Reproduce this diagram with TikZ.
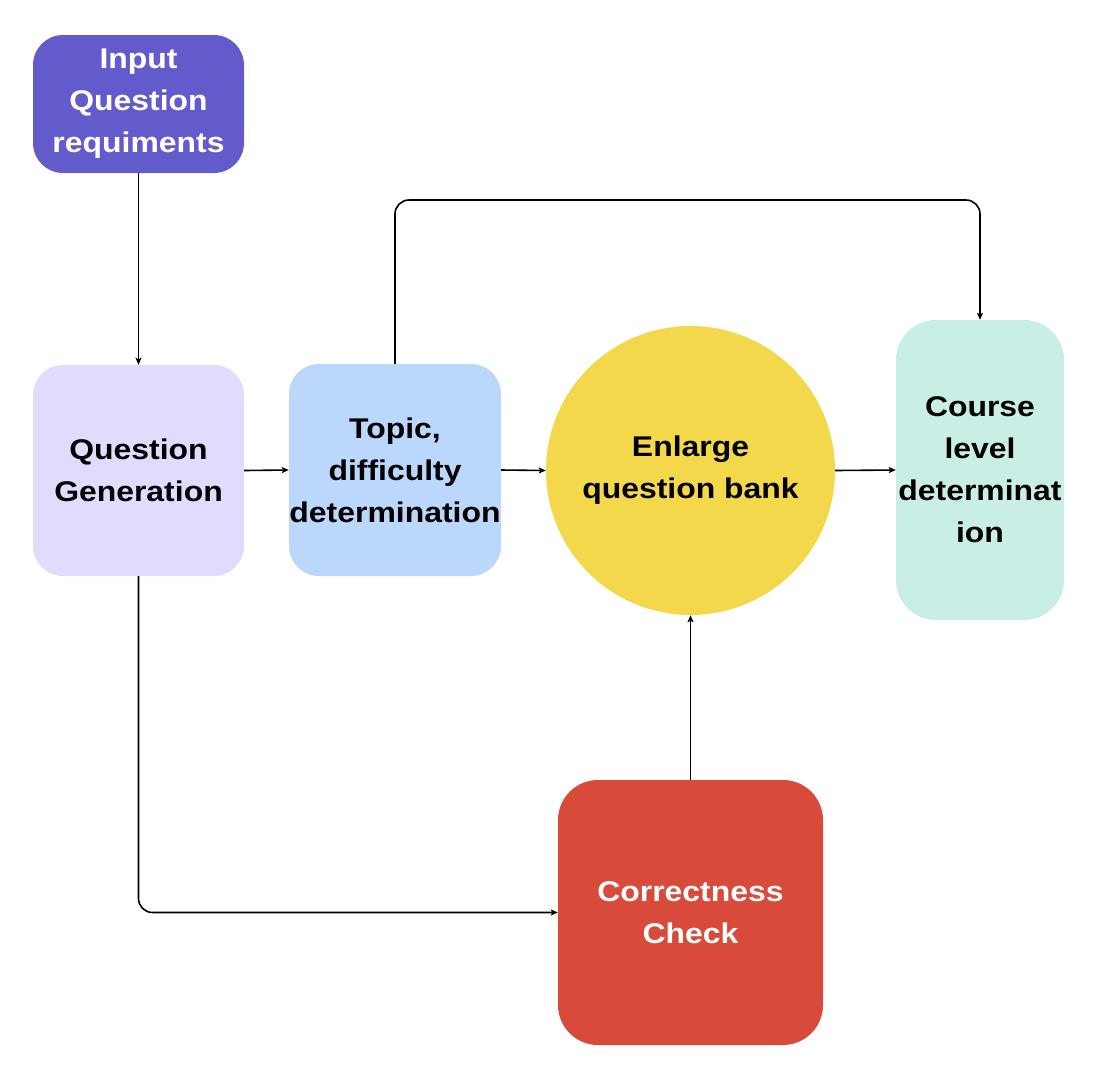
\documentclass[tikz,border=0pt]{standalone}
\usepackage{fontspec}
\setmainfont{Liberation Sans}[FakeStretch=1.12]
\usepackage{tikz}
\usetikzlibrary{arrows.meta}
\definecolor{inputc}{HTML}{635BCB}
\definecolor{genc}{HTML}{E1DCFE}
\definecolor{topicc}{HTML}{BBD7FC}
\definecolor{bankc}{HTML}{F3D84B}
\definecolor{coursec}{HTML}{C9EEE5}
\definecolor{checkc}{HTML}{D84A3A}
\tikzset{
  flowbox/.style={rounded corners=30pt, inner sep=0pt, align=center,
    font=\fontsize{28.5}{42}\selectfont\bfseries},
  link/.style={draw=black, line width=1.6pt, rounded corners=14pt,
    -{Stealth[length=7pt,width=6pt,inset=1.5pt]}},
}
\begin{document}
\begin{tikzpicture}[x=1pt,y=-1pt]
  \useasboundingbox[fill=white] (0,0) rectangle (1098,1080);
  % boxes
  \node[flowbox, fill=inputc, text=white, minimum width=211pt, minimum height=138pt] (input) at (138.5,104) {Input\\Question\\requiments};
  \node[flowbox, fill=genc, minimum width=211pt, minimum height=211pt] (gen) at (138.5,470.5) {Question\\Generation};
  \node[flowbox, fill=topicc, minimum width=212pt, minimum height=212pt] (topic) at (395,470) {Topic,\\difficulty\\determination};
  \node[circle, fill=bankc, inner sep=0pt, minimum size=289pt, align=center,
    font=\fontsize{28.5}{42}\selectfont\bfseries] (bank) at (690.5,470.5) {Enlarge\\question bank};
  \node[flowbox, rounded corners=40pt, fill=coursec, minimum width=168pt, minimum height=300pt] (course) at (980,470) {Course\\level\\determinat\\ion};
  \node[flowbox, rounded corners=40pt, fill=checkc, text=white, minimum width=265pt, minimum height=265pt] (check) at (690.5,912.5) {Correctness\\Check};
  % connectors
  \draw[link] (input.south) -- (gen.north);
  \draw[link] (gen.east) -- (topic.west);
  \draw[link] (topic.east) -- (bank.west);
  \draw[link] (bank.east) -- (course.west);
  \draw[link] (topic.north) |- (688,200) -| (course.north);
  \draw[link] (gen.south) |- (check.west);
  \draw[link] (check.north) -- (bank.south);
\end{tikzpicture}
\end{document}
